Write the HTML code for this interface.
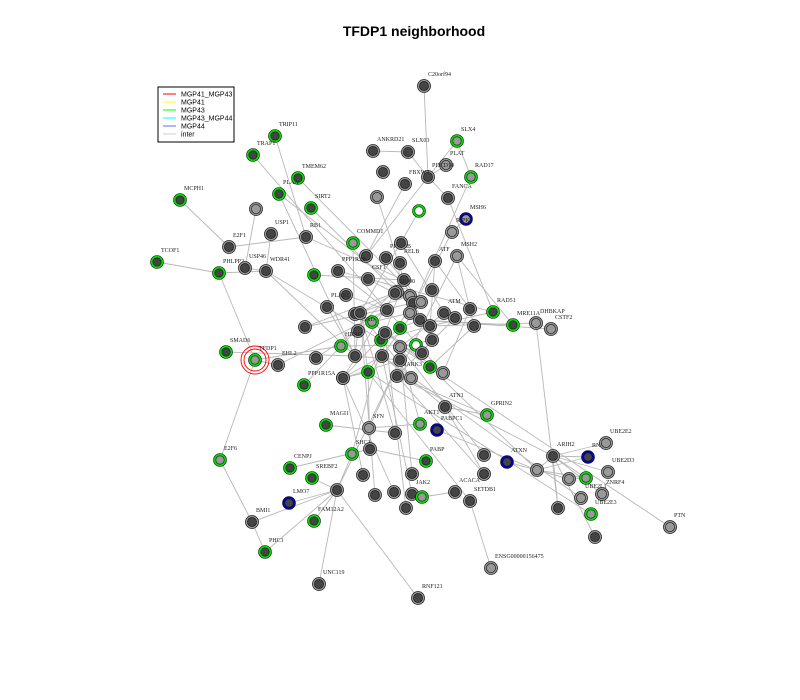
<!DOCTYPE html>
<html><head><meta charset="utf-8"><style>
body{margin:0;background:#fff}
svg{display:block}
text{font-family:"Liberation Serif",serif}
</style></head><body>
<svg id="chart" width="800" height="700">
<rect width="800" height="700" fill="#fff"/>
<text x="414" y="36" text-anchor="middle" font-weight="bold" font-size="14" style="font-family:'Liberation Sans',sans-serif">TFDP1 neighborhood</text>
<g id="edges"></g>
<g id="nodes"></g>
<g>
<rect x="158" y="87" width="76" height="55" fill="#fff" stroke="#000" stroke-width="1"/>
<g font-size="7" style="font-family:'Liberation Sans',sans-serif">
<line x1="163" y1="94" x2="176" y2="94" stroke="#f00"/><text x="181" y="96.5" style="font-family:'Liberation Sans',sans-serif">MGP41_MGP43</text>
<line x1="163" y1="102" x2="176" y2="102" stroke="#ff0"/><text x="181" y="104.5" style="font-family:'Liberation Sans',sans-serif">MGP41</text>
<line x1="163" y1="110" x2="176" y2="110" stroke="#0f0"/><text x="181" y="112.5" style="font-family:'Liberation Sans',sans-serif">MGP43</text>
<line x1="163" y1="118" x2="176" y2="118" stroke="#0ff"/><text x="181" y="120.5" style="font-family:'Liberation Sans',sans-serif">MGP43_MGP44</text>
<line x1="163" y1="126" x2="176" y2="126" stroke="#66f"/><text x="181" y="128.5" style="font-family:'Liberation Sans',sans-serif">MGP44</text>
<line x1="163" y1="134" x2="176" y2="134" stroke="#ccc"/><text x="181" y="136.5" style="font-family:'Liberation Sans',sans-serif">inter</text>
</g></g>
</svg>
<script>
const nodeIds=["C20orf94","ANKRD21","SLX4","SLX03","PLAT","PDCD","RAD17","FBXW","c1","c2","FANCA","cw1","MSH6","RIPK3","MSH2","COMMD1","c3","PPP1CB","c4","RELB","ATF",
"TRIP11","TRAP","TMEM62","PLAA","SIRT2","c5","MCPH1","E2F1","USP1","RB1","TCOF1","PHLPP2","USP46","WDR41","g1","PPP1R","CSF","c6","PLAS","c7","c8","g2","g3","g4","BAD","HDAC","c9","c10","g5","c11","c12","c13","cw2","c14","EP300","c15","c16","c17","c18","ATM","c19","c20","c21","c22","c23","c24","c25","c26","g6","c27","MARK","c28","c29","c30","c31","c32","c33",
"SMAD6","TFDP1","EHL2","PPP1R15A","c34","MAGI1","E2F6","CENPJ","SREBF2","LMO7","c35","FAM12A2","BMI1","PHC1","UNC119","RNF121",
"SFN","c36","SHC","c37","c38","c39","c40","JAK2","g7","c41","c42","PABP","AKT","PABPC1","ATN1","GPRIN2","ATXN","ACACA","SETDB1","c43","ENSG2","c44",
"MRE11A","DHBKAP","CSTF2","RAD","ARIH2","RNF","UBE2E2","c45","c46","g8","UBE2D3","ZNRF4","UBE2L","c47","UBE2E3","c48","PTN"];
const nodeX=[424,373,457,408,446,428,471,405,383,377,448,419,466,452,457,353,366,386,401,400,435,
275,253,298,279,311,256,180,229,271,306,157,219,245,266,314,338,368,346,327,355,305,372,400,381,358,341,316,355,416,387,397,404,432,410,395,413,421,444,455,470,474,410,420,430,432,430,443,397,411,400,422,360,385,343,368,382,400,
226,255,278,304,343,326,220,290,312,289,337,314,252,265,319,418,
369,395,352,370,363,375,394,412,422,406,412,426,420,437,445,487,507,455,470,484,491,484,
513,536,551,493,553,588,606,537,569,586,608,602,581,558,591,595,670];
const nodeY=[86,151,141,152,165,177,177,184,172,197,198,211,219,232,256,243,256,258,243,263,261,
136,155,178,194,208,209,200,247,234,237,262,273,268,271,275,271,279,295,307,314,327,322,328,340,331,346,358,356,345,310,292,280,290,296,293,303,302,313,318,309,326,313,320,326,340,367,373,376,378,360,353,313,333,378,372,356,347,
352,360,365,385,378,425,460,468,478,503,490,521,522,552,584,598,
428,433,454,449,475,495,492,494,497,508,474,461,424,430,407,415,462,492,501,474,568,455,
325,323,329,312,456,457,443,470,479,478,472,494,498,508,514,537,527];
const nodeStyle=["kd","kd","gl","kd","kl","kd","gl","kd","kd","kl","kd","gw","bl","kl","kl","gl","kd","kd","kd","kd","kd",
"gd","gd","gd","gd","gd","kl","gd","kd","kd","kd","gd","gd","kd","kd","gd","kd","kd","kd","kd","kd",
"kd","gl","gd","gd","kd","gl","kd","kd","gw","kd","kd","kd","kd","kl","kd","kd","kl","kd","kd","kd",
"kd","kl","kd","kd","kd","gd","kl","kd","kl","kd","kd","kd","kd","kd","gd","kd","kl",
"gd","gl","kd","gd","kd","gd","gl","gd","gd","bd","kd","gd","kd","gd","kd","kd",
"kl","kd","gl","kd","kd","kd","kd","kd","gl","kd","kd","gd","gl","bd","kd","gl","bd","kd","kd","kd","kl","kd",
"gd","kl","kl","gd","kd","bd","kl","kl","kl","gl","kl","kl","kl","kd","gl","kd","kl"];
const nodeLabel={C20orf94:"C20orf94",ANKRD21:"ANKRD21",SLX4:"SLX4",SLX03:"SLX03",PLAT:"PLAT",PDCD:"PDCD10",RAD17:"RAD17",FBXW:"FBXW4",FANCA:"FANCA",MSH6:"MSH6",RIPK3:"RIPK3",MSH2:"MSH2",COMMD1:"COMMD1",PPP1CB:"PPP1CB",RELB:"RELB",ATF:"ATF",TRIP11:"TRIP11",TRAP:"TRAP1",TMEM62:"TMEM62",PLAA:"PLAA",SIRT2:"SIRT2",MCPH1:"MCPH1",E2F1:"E2F1",USP1:"USP1",RB1:"RB1",TCOF1:"TCOF1",PHLPP2:"PHLPP2",USP46:"USP46",WDR41:"WDR41",PPP1R:"PPP1R3B",CSF:"CSF1",PLAS:"PLAS1",BAD:"BAD",HDAC:"HDAC",EP300:"EP300",c17:"ATM",c26:"MARK3",SMAD6:"SMAD6",TFDP1:"TFDP1",EHL2:"EHL2",PPP1R15A:"PPP1R15A",MAGI1:"MAGI1",E2F6:"E2F6",CENPJ:"CENPJ",SREBF2:"SREBF2",LMO7:"LMO7",FAM12A2:"FAM12A2",BMI1:"BMI1",PHC1:"PHC1",UNC119:"UNC119",RNF121:"RNF121",SFN:"SFN",SHC:"SHC1",JAK2:"JAK2",PABP:"PABP",AKT:"AKT1",PABPC1:"PABPC1",ATN1:"ATN1",GPRIN2:"GPRIN2",ATXN:"ATXN",ACACA:"ACACA",SETDB1:"SETDB1",ENSG2:"ENSG00000156475",MRE11A:"MRE11A",DHBKAP:"DHBKAP",CSTF2:"CSTF2",RAD:"RAD51",ARIH2:"ARIH2",RNF:"RNF14",UBE2E2:"UBE2E2",UBE2D3:"UBE2D3",ZNRF4:"ZNRF4",UBE2L:"UBE2L1",UBE2E3:"UBE2E3",PTN:"PTN"};
const edgeList=[["C20orf94","PDCD"],["ANKRD21","SLX03"],["SLX03","PDCD"],["SLX4","PDCD"],["SLX4","RAD17"],["PLAT","PDCD"],["PDCD","c3"],["FBXW","c3"],["c2","c13"],["RAD17","c20"],["FANCA","PDCD"],["FANCA","RAD"],["MSH6","RIPK3"],["RIPK3","c20"],["MSH2","c19"],["MSH2","c26"],["MSH2","MRE11A"],["ATF","c22"],["COMMD1","c10"],["PPP1CB","c16"],["c4","c17"],["RELB","c12"],["ATF","ATM"],["cw1","c28"],["c8","c12"],
["TRIP11","RB1"],["TRAP","c11"],["TMEM62","c16"],["PLAA","c10"],["PLAA","c14"],["SIRT2","c12"],["c5","USP46"],["MCPH1","E2F1"],["E2F1","RB1"],["USP1","WDR41"],["RB1","c13"],["TCOF1","PHLPP2"],["PHLPP2","WDR41"],["USP46","WDR41"],["WDR41","c10"],["WDR41","g4"],["g1","c13"],["PPP1R","c11"],["PPP1R","RAD"],["CSF","c15"],["c6","c11"],["PLAS","c10"],["c7","c14"],["c8","c15"],["g2","c20"],["g3","c21"],["g4","c22"],["BAD","c10"],["HDAC","g5"],["HDAC","TFDP1"],["c9","c11"],["c10","c27"],["c11","c25"],["c12","c28"],["c13","c29"],["c14","c23"],["EP300","c30"],["c15","c31"],["c16","c32"],["c17","c33"],["c18","c26"],["ATM","c25"],["c19","c24"],["c20","c21"],["c21","CSTF2"],["c22","DHBKAP"],["c23","c33"],["c24","c28"],["c25","c29"],["g6","c28"],["c27","c30"],["MARK","c29"],["c28","c31"],["c29","c30"],["c30","c32"],
["SMAD6","c10"],["TFDP1","EHL2"],["TFDP1","E2F6"],["TFDP1","PHLPP2"],["EHL2","c11"],["PPP1R15A","c13"],["c34","c31"],["MAGI1","c36"],["E2F6","BMI1"],["CENPJ","c37"],["SREBF2","c35"],["LMO7","c35"],["c35","SHC"],["FAM12A2","c35"],["BMI1","PHC1"],["BMI1","c35"],["PHC1","c35"],["UNC119","c35"],["RNF121","c35"],["c35","c27"],["SFN","c27"],["SFN","AKT"],["c36","c28"],["SHC","c29"],["c37","PABP"],["c37","c31"],["c38","c30"],["c39","c28"],["c40","c30"],["JAK2","c32"],["g7","ACACA"],["c41","c29"],["c42","c33"],["AKT","c33"],["PABPC1","c45"],["ATN1","c43"],["ATN1","c32"],["GPRIN2","c26"],["ATXN","c46"],["c43","c26"],["SETDB1","ENSG2"],["SETDB1","c31"],["c44","c33"],
["MRE11A","c21"],["DHBKAP","CSTF2"],["DHBKAP","c47"],["RAD","c22"],["ARIH2","RNF"],["ARIH2","c26"],["ARIH2","c45"],["ARIH2","UBE2E2"],["ARIH2","UBE2D3"],["ARIH2","c47"],["ARIH2","g8"],["ARIH2","c48"],["ARIH2","ZNRF4"],["c45","c46"],["c46","g8"],["RNF","c45"],["UBE2L","c32"],["UBE2E3","c31"],["PTN","c33"],["c45","g8"],["c24","c45"],["GPRIN2","ATN1"]];
const NS="http://www.w3.org/2000/svg";
const idx={};nodeIds.forEach((id,i)=>idx[id]=i);
const eg=document.getElementById('edges'), ng=document.getElementById('nodes');
edgeList.forEach(e=>{const a=idx[e[0]],b=idx[e[1]];if(a==null||b==null)return;
const l=document.createElementNS(NS,'line');
l.setAttribute('x1',nodeX[a]);l.setAttribute('y1',nodeY[a]);l.setAttribute('x2',nodeX[b]);l.setAttribute('y2',nodeY[b]);
l.setAttribute('stroke','#b8b8b8');l.setAttribute('stroke-width','0.9');


eg.appendChild(l);});
const fillC={d:'#444',m:'#666',l:'#999',w:'#fff'};
nodeIds.forEach((id,i)=>{const x=nodeX[i],y=nodeY[i],st=nodeStyle[i]||'kd',r=st[0],f=st[1];
const g=document.createElementNS(NS,'g');


if(id==="TFDP1"){[11,14].forEach(rr=>{const c=document.createElementNS(NS,'circle');c.setAttribute('cx',x);c.setAttribute('cy',y);c.setAttribute('r',rr);c.setAttribute('fill','none');c.setAttribute('stroke','#f00');c.setAttribute('stroke-width','0.9');g.appendChild(c);});}
const o=document.createElementNS(NS,'circle');o.setAttribute('cx',x);o.setAttribute('cy',y);o.setAttribute('r',6.5);
if(r==='k'){o.setAttribute('fill','#9a9a9a');o.setAttribute('stroke','#222');o.setAttribute('stroke-width','0.8');}
else{o.setAttribute('fill',r==='g'?'#00e000':'#0000c0');o.setAttribute('stroke','#111');o.setAttribute('stroke-width','0.6');}
g.appendChild(o);
const c=document.createElementNS(NS,'circle');c.setAttribute('cx',x);c.setAttribute('cy',y);c.setAttribute('r',r==='k'?4.6:4.2);
c.setAttribute('fill',fillC[f]);c.setAttribute('stroke','#111');c.setAttribute('stroke-width','0.6');g.appendChild(c);
ng.appendChild(g);
if(nodeLabel[id]){const t=document.createElementNS(NS,'text');t.setAttribute('x',x+4);t.setAttribute('y',y-10);t.setAttribute('font-size','6');t.setAttribute('fill','#222');t.textContent=nodeLabel[id];


ng.appendChild(t);}
});
</script>
</body></html>
